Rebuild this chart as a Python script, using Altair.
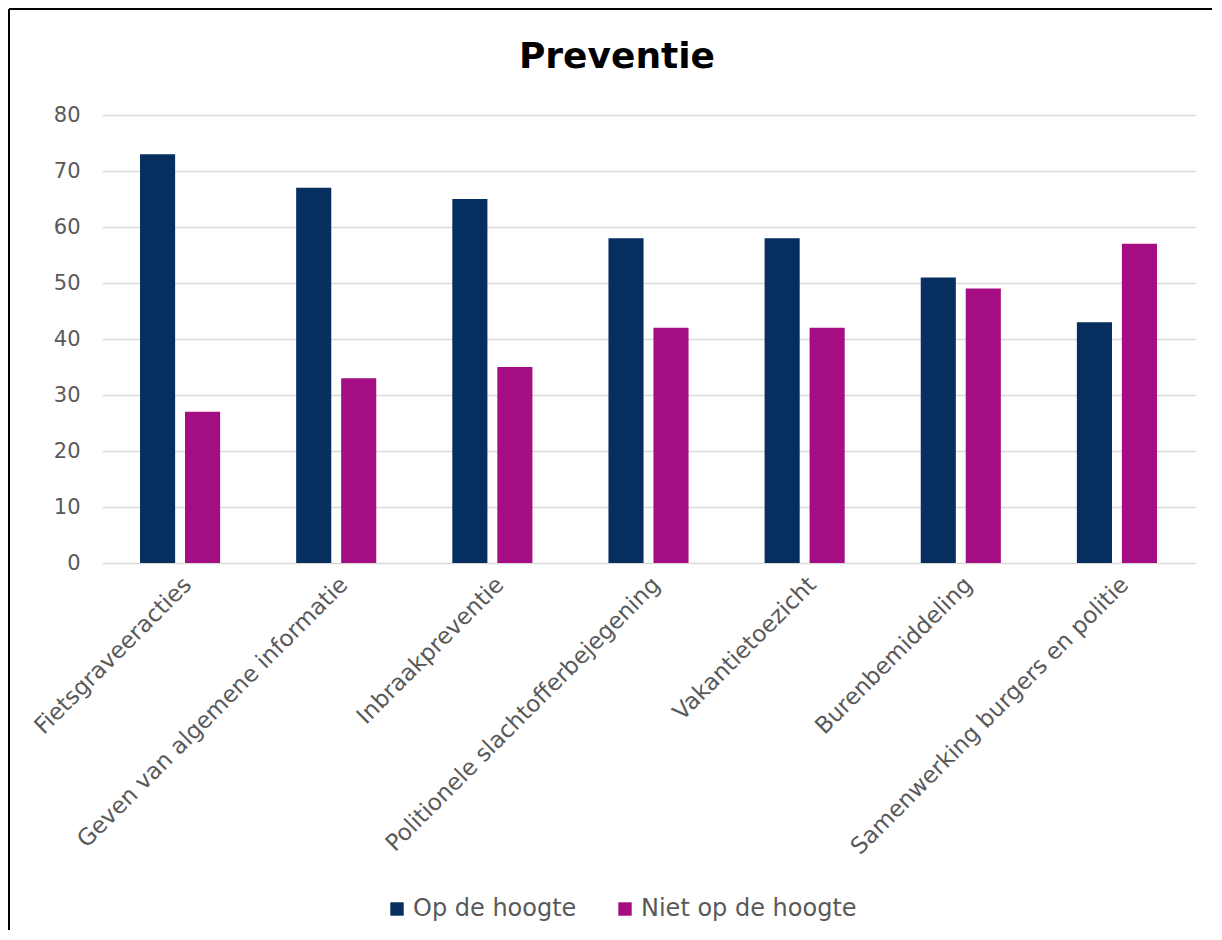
import altair as alt
import pandas as pd

categories = ["Fietsgraveeracties", "Geven van algemene informatie", "Inbraakpreventie",
              "Politionele slachtofferbejegening", "Vakantietoezicht", "Burenbemiddeling",
              "Samenwerking burgers en politie"]
op_de_hoogte = [73, 67, 65, 58, 58, 51, 43]
niet_op_de_hoogte = [27, 33, 35, 42, 42, 49, 57]
series = ["Op de hoogte", "Niet op de hoogte"]
colors = ["#062E5F", "#A50E82"]
title_text = ["Preventie"]

rows = []
for c, a, b in zip(categories, op_de_hoogte, niet_op_de_hoogte):
    rows.append({"cat": c, "series": series[0], "value": a})
    rows.append({"cat": c, "series": series[1], "value": b})
df = pd.DataFrame(rows)
title_df = pd.DataFrame({"t": title_text})

FONT = "DejaVu Sans"
GRAY = "#595959"

bars = alt.Chart(df).mark_bar().encode(
    x=alt.X("cat:N", sort=categories, title=None,
            scale=alt.Scale(paddingInner=0.487, paddingOuter=0.2435),
            axis=alt.Axis(labelAngle=-45, labelFontSize=23, labelColor=GRAY, labelFont=FONT,
                          ticks=False, domain=False, labelPadding=10, labelLimit=600)),
    xOffset=alt.XOffset("series:N", sort=series, scale=alt.Scale(paddingInner=0.22, paddingOuter=0)),
    y=alt.Y("value:Q", title=None, scale=alt.Scale(domain=[0, 80]),
            axis=alt.Axis(values=list(range(0, 81, 10)), labelFontSize=21, labelColor=GRAY,
                          labelFont=FONT, ticks=False, domain=False, labelPadding=22,
                          gridColor="#D9D9D9", gridWidth=1.5)),
    color=alt.Color("series:N", sort=series,
                    scale=alt.Scale(domain=series, range=colors),
                    legend=alt.Legend(title=None, orient="none", legendX=283, legendY=782,
                                      direction="horizontal",
                                      symbolType="square", symbolSize=180, labelFontSize=24,
                                      labelColor=GRAY, labelFont=FONT, columnPadding=36,
                                      symbolStrokeWidth=0, labelOffset=4, labelLimit=400)),
)

title = alt.Chart(title_df).mark_text(font=FONT, fontSize=36, fontWeight="bold", color="black",
                                      align="center", baseline="middle").encode(
    text="t:N", x=alt.value(515), y=alt.value(-58))

border_top = alt.Chart(title_df).mark_rule(color="black", strokeWidth=2).encode(
    x=alt.value(-93), x2=alt.value(1110), y=alt.value(-106))
border_left = alt.Chart(title_df).mark_rule(color="black", strokeWidth=2).encode(
    x=alt.value(-93), y=alt.value(-106), y2=alt.value(815))

chart = alt.layer(border_top, border_left, title, bars).properties(
    width=1093, height=448,
    padding=0,
).configure_view(stroke=None)

chart.save("out.html", embed_options={"renderer": "svg", "actions": False})
